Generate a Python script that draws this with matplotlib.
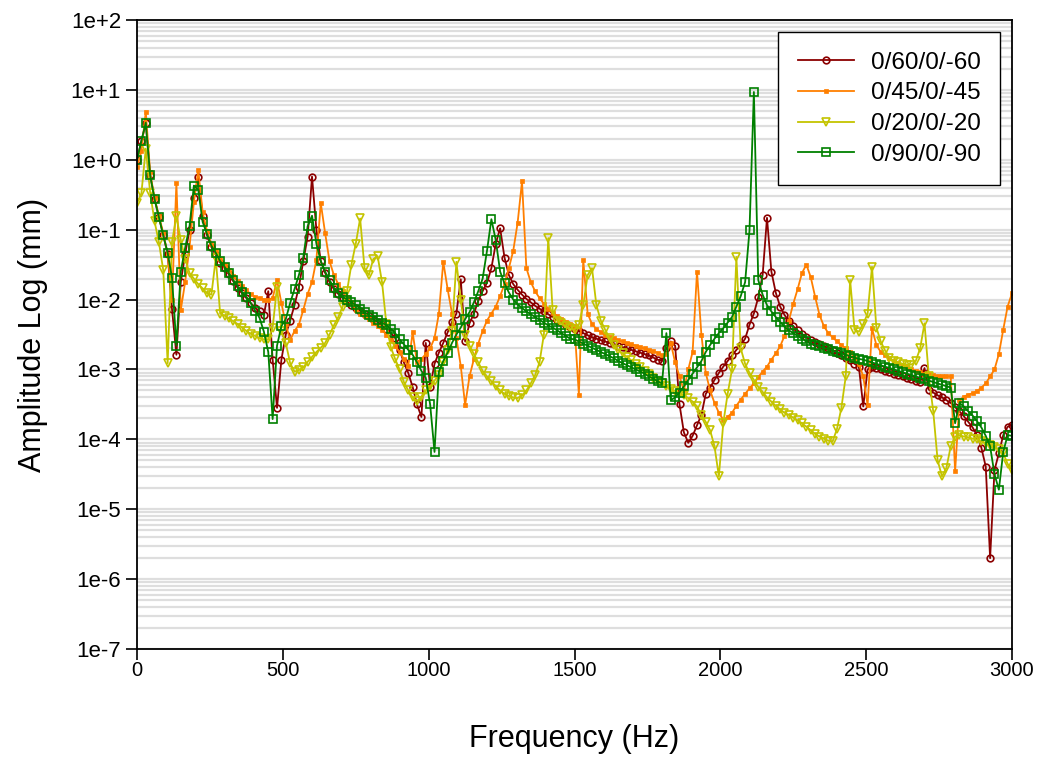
import numpy as np
import matplotlib
matplotlib.use("Agg")
import matplotlib.pyplot as plt
from matplotlib.ticker import LogLocator, FuncFormatter, NullFormatter

plt.rcParams['font.family'] = ['Liberation Sans', 'DejaVu Sans']

# Frequency grid of the sweep (Hz), one point every 15 Hz.
freq = np.arange(0, 3001, 15)

# Amplitudes, written as log10(mm).
log_amp_60 = [
    0.00, 0.27, 0.52, -0.22, -0.56, -0.82, -1.08, -1.35, -2.14, -2.79,
    -1.75, -1.35, -1.00, -0.55, -0.24, -0.80, -1.08, -1.25, -1.36, -1.47,
    -1.55, -1.64, -1.74, -1.83, -1.91, -1.98, -2.05, -2.12, -2.17, -2.22,
    -1.88, -2.86, -3.55, -2.86, -2.50, -2.30, -2.08, -1.82, -1.45, -1.10,
    -0.24, -1.00, -1.45, -1.62, -1.75, -1.85, -1.92, -1.98, -2.03, -2.08,
    -2.12, -2.16, -2.20, -2.24, -2.28, -2.32, -2.37, -2.42, -2.48, -2.55,
    -2.72, -2.90, -3.05, -3.25, -3.50, -3.68, -2.62, -3.25, -2.92, -2.76,
    -2.62, -2.47, -2.32, -2.20, -1.71, -2.60, -2.34, -2.20, -2.02, -1.88,
    -1.76, -1.55, -1.20, -0.98, -1.40, -1.65, -1.78, -1.86, -1.93, -1.99,
    -2.04, -2.09, -2.13, -2.17, -2.21, -2.25, -2.29, -2.32, -2.36, -2.39,
    -2.42, -2.45, -2.48, -2.51, -2.54, -2.56, -2.58, -2.60, -2.62, -2.64,
    -2.66, -2.68, -2.70, -2.72, -2.74, -2.76, -2.78, -2.80, -2.83, -2.86,
    -2.88, -2.70, -2.60, -2.66, -3.50, -3.90, -4.05, -3.95, -3.80, -3.65,
    -3.35, -3.26, -3.15, -3.05, -2.96, -2.88, -2.80, -2.72, -2.65, -2.56,
    -2.36, -2.20, -1.97, -1.65, -0.83, -1.60, -1.90, -2.10, -2.22, -2.31,
    -2.38, -2.44, -2.49, -2.54, -2.58, -2.61, -2.64, -2.67, -2.70, -2.72,
    -2.76, -2.80, -2.84, -2.87, -2.92, -2.96, -3.53, -3.00, -2.96, -2.98,
    -3.00, -3.02, -3.04, -3.06, -3.08, -3.10, -3.12, -3.14, -3.16, -3.18,
    -2.98, -3.29, -3.33, -3.37, -3.40, -3.44, -3.48, -3.54, -3.60, -3.67,
    -3.75, -3.83, -3.94, -4.12, -4.39, -5.70, -4.44, -4.20, -3.94, -3.82,
    -3.80,
]

log_amp_45 = [
    -0.10, 0.12, 0.69, -0.18, -0.55, -0.80, -1.05, -1.35, -2.00, -0.33,
    -2.15, -1.75, -1.25, -0.60, -0.15, -0.75, -1.02, -1.20, -1.31, -1.42,
    -1.50, -1.58, -1.66, -1.74, -1.81, -1.87, -1.92, -1.96, -1.98, -2.00,
    -2.00, -1.98, -1.72, -2.05, -2.35, -2.58, -2.45, -2.36, -2.15, -1.92,
    -1.75, -1.43, -0.62, -1.05, -1.45, -1.65, -1.78, -1.88, -1.96, -2.03,
    -2.15, -2.20, -2.24, -2.28, -2.33, -2.38, -2.44, -2.50, -2.58, -2.67,
    -2.75, -2.85, -2.95, -2.47, -2.90, -2.85, -2.78, -2.70, -2.55, -2.20,
    -1.46, -1.85, -2.20, -2.55, -2.95, -3.51, -3.10, -2.85, -2.63, -2.45,
    -2.30, -2.20, -2.10, -1.95, -1.78, -1.55, -1.30, -0.90, -0.31, -1.55,
    -1.75, -1.88, -1.98, -2.06, -2.13, -2.19, -2.24, -2.28, -2.32, -2.35,
    -2.38, -3.36, -1.43, -2.20, -2.35, -2.42, -2.47, -2.50, -2.53, -2.55,
    -2.58, -2.60, -2.62, -2.64, -2.66, -2.68, -2.70, -2.72, -2.74, -2.76,
    -2.80, -2.78, -2.62, -2.90, -3.10, -3.30, -3.00, -2.75, -1.60, -2.50,
    -3.05, -3.30, -3.48, -3.62, -3.72, -3.68, -3.62, -3.52, -3.43, -3.35,
    -3.27, -3.20, -3.11, -3.03, -2.96, -2.86, -2.77, -2.67, -2.52, -2.30,
    -2.06, -1.85, -1.62, -1.50, -1.68, -1.96, -2.22, -2.38, -2.48, -2.54,
    -2.60, -2.65, -2.70, -2.75, -2.83, -2.92, -3.10, -3.51, -2.41, -2.65,
    -2.75, -2.80, -2.84, -2.88, -2.91, -2.94, -2.97, -3.00, -3.02, -3.04,
    -3.06, -3.07, -3.08, -3.09, -3.10, -3.10, -3.10, -4.46, -3.44, -3.39,
    -3.36, -3.34, -3.31, -3.26, -3.20, -3.10, -3.00, -2.78, -2.43, -2.10,
    -1.91,
]

log_amp_20 = [
    -0.62, -0.48, 0.16, -0.47, -0.88, -1.18, -1.58, -2.91, -1.17, -0.81,
    -1.15, -1.42, -1.62, -1.70, -1.78, -1.84, -1.91, -1.93, -1.41, -2.20,
    -2.23, -2.27, -2.31, -2.35, -2.40, -2.45, -2.49, -2.52, -2.55, -2.57,
    -2.57, -2.40, -1.82, -2.45, -2.62, -2.91, -3.03, -3.01, -2.97, -2.89,
    -2.82, -2.75, -2.69, -2.62, -2.50, -2.37, -2.25, -2.10, -1.88, -1.50,
    -1.20, -0.84, -1.55, -1.65, -1.42, -1.38, -1.75, -2.35, -2.68, -2.85,
    -3.00, -3.18, -3.30, -3.40, -3.45, -3.39, -3.30, -3.24, -3.16, -3.08,
    -2.90, -2.72, -2.45, -1.46, -2.00, -2.50, -2.66, -2.78, -2.90, -3.02,
    -3.10, -3.17, -3.24, -3.30, -3.35, -3.38, -3.40, -3.41, -3.37, -3.30,
    -3.20, -3.08, -2.90, -2.50, -1.12, -2.15, -2.30, -2.34, -2.38, -2.41,
    -2.43, -2.36, -2.08, -1.65, -1.55, -2.08, -2.30, -2.43, -2.55, -2.65,
    -2.72, -2.77, -2.82, -2.87, -2.92, -2.97, -3.02, -3.07, -3.12, -3.17,
    -3.20, -3.24, -3.28, -3.31, -3.34, -3.37, -3.41, -3.46, -3.53, -3.65,
    -3.75, -3.87, -4.10, -4.53, -3.77, -3.35, -3.00, -1.39, -2.70, -2.92,
    -3.05, -3.15, -3.25, -3.32, -3.40, -3.46, -3.52, -3.57, -3.62, -3.65,
    -3.69, -3.73, -3.77, -3.82, -3.87, -3.92, -3.96, -3.99, -4.02, -4.03,
    -3.85, -3.55, -3.10, -1.72, -2.43, -2.46, -2.35, -2.20, -1.53, -2.40,
    -2.60, -2.73, -2.83, -2.88, -2.90, -2.92, -2.93, -2.93, -2.88, -2.70,
    -2.34, -3.10, -3.60, -4.30, -4.53, -4.41, -4.10, -3.96, -3.94, -3.96,
    -3.97, -3.99, -4.00, -4.03, -4.05, -4.08, -4.11, -4.14, -4.20, -4.35,
    -4.44,
]

log_amp_90 = [
    0.00, 0.27, 0.53, -0.22, -0.56, -0.82, -1.08, -1.33, -1.69, -2.66,
    -1.60, -1.26, -0.95, -0.37, -0.43, -0.89, -1.06, -1.23, -1.33, -1.45,
    -1.53, -1.62, -1.72, -1.81, -1.89, -1.96, -2.05, -2.16, -2.26, -2.46,
    -2.75, -3.71, -2.66, -2.38, -2.28, -2.05, -1.85, -1.65, -1.40, -0.95,
    -0.80, -1.20, -1.45, -1.60, -1.72, -1.83, -1.90, -1.96, -2.00, -2.04,
    -2.08, -2.13, -2.18, -2.22, -2.25, -2.29, -2.33, -2.37, -2.42, -2.48,
    -2.57, -2.64, -2.72, -2.79, -2.90, -3.02, -3.12, -3.50, -4.18, -3.03,
    -2.88, -2.76, -2.62, -2.50, -2.40, -2.28, -2.18, -2.04, -1.88, -1.70,
    -1.30, -0.85, -1.15, -1.60, -1.77, -1.90, -2.00, -2.07, -2.12, -2.17,
    -2.21, -2.25, -2.29, -2.33, -2.37, -2.40, -2.44, -2.48, -2.52, -2.56,
    -2.57, -2.60, -2.63, -2.66, -2.69, -2.72, -2.75, -2.78, -2.81, -2.84,
    -2.88, -2.91, -2.94, -2.97, -3.00, -3.03, -3.06, -3.10, -3.13, -3.17,
    -3.20, -2.48, -3.44, -3.40, -3.33, -3.24, -3.15, -3.06, -2.97, -2.88,
    -2.75, -2.65, -2.56, -2.48, -2.41, -2.33, -2.25, -2.10, -1.95, -1.75,
    -1.01, 0.97, -1.72, -1.93, -2.08, -2.17, -2.25, -2.32, -2.39, -2.44,
    -2.48, -2.52, -2.56, -2.60, -2.63, -2.65, -2.67, -2.69, -2.71, -2.73,
    -2.75, -2.77, -2.79, -2.81, -2.83, -2.85, -2.86, -2.88, -2.90, -2.92,
    -2.94, -2.96, -2.98, -3.00, -3.02, -3.04, -3.06, -3.08, -3.10, -3.12,
    -3.14, -3.16, -3.18, -3.20, -3.22, -3.24, -3.26, -3.77, -3.48, -3.53,
    -3.60, -3.66, -3.74, -3.83, -3.95, -4.10, -4.50, -4.72, -4.18, -3.94,
    -3.95,
]

labels = ["0/60/0/-60", "0/45/0/-45", "0/20/0/-20", "0/90/0/-90"]
series = [log_amp_60, log_amp_45, log_amp_20, log_amp_90]

# Line / marker style for each layup.
styles = [
    dict(color="#8b0000", marker="o", markersize=4.8, markerfacecolor="none", markeredgewidth=1.2),
    dict(color="#ff7f00", marker="s", markersize=2.2, markeredgewidth=0.5),
    dict(color="#c4c400", marker="v", markersize=5.2, markerfacecolor="none", markeredgewidth=1.2),
    dict(color="#008000", marker="s", markersize=5.2, markerfacecolor="none", markeredgewidth=1.2),
]

fig = plt.figure(figsize=(10.42, 7.58), dpi=100)
ax = fig.add_axes([0.1315, 0.1438, 0.8397, 0.8298])

for lab, vals, st in zip(labels, series, styles):
    amp = np.power(10.0, np.array(vals))  # back from log10 to mm
    ax.plot(freq, amp, label=lab, linewidth=1.3, **st)

ax.set_yscale("log")
ax.set_ylim(1e-7, 1e2)
ax.set_xlim(0, 3000)
ax.set_xticks([0, 500, 1000, 1500, 2000, 2500, 3000])

ax.yaxis.set_major_locator(LogLocator(base=10, numticks=20))
ax.yaxis.set_minor_locator(LogLocator(base=10, subs=np.arange(2, 10), numticks=20))
ax.yaxis.set_minor_formatter(NullFormatter())
ax.yaxis.set_major_formatter(FuncFormatter(lambda v, p: "1e%+d" % int(round(np.log10(v)))))

# Light horizontal grid at every decade and sub-decade.
ax.yaxis.grid(True, which="both", color="#dedede", linewidth=1.6)
ax.set_axisbelow(True)

ax.tick_params(axis="both", which="major", direction="out", length=8, width=1.2)
ax.tick_params(axis="x", which="major", labelsize=14.5, pad=1)
ax.tick_params(axis="y", which="major", labelsize=16)
ax.tick_params(axis="y", which="minor", length=0)
for sp in ax.spines.values():
    sp.set_linewidth(1.3)

ax.set_xlabel("Frequency (Hz)", fontsize=22, labelpad=31)
ax.set_ylabel("Amplitude Log (mm)", fontsize=22, labelpad=16)

leg = ax.legend(loc="upper right", fontsize=17.5, fancybox=False, edgecolor="black",
                framealpha=1, borderaxespad=0.5, handlelength=2.3, labelspacing=0.36,
                borderpad=0.8, handletextpad=0.7)
leg.get_frame().set_linewidth(1.0)

plt.savefig("out.png", dpi=100)
